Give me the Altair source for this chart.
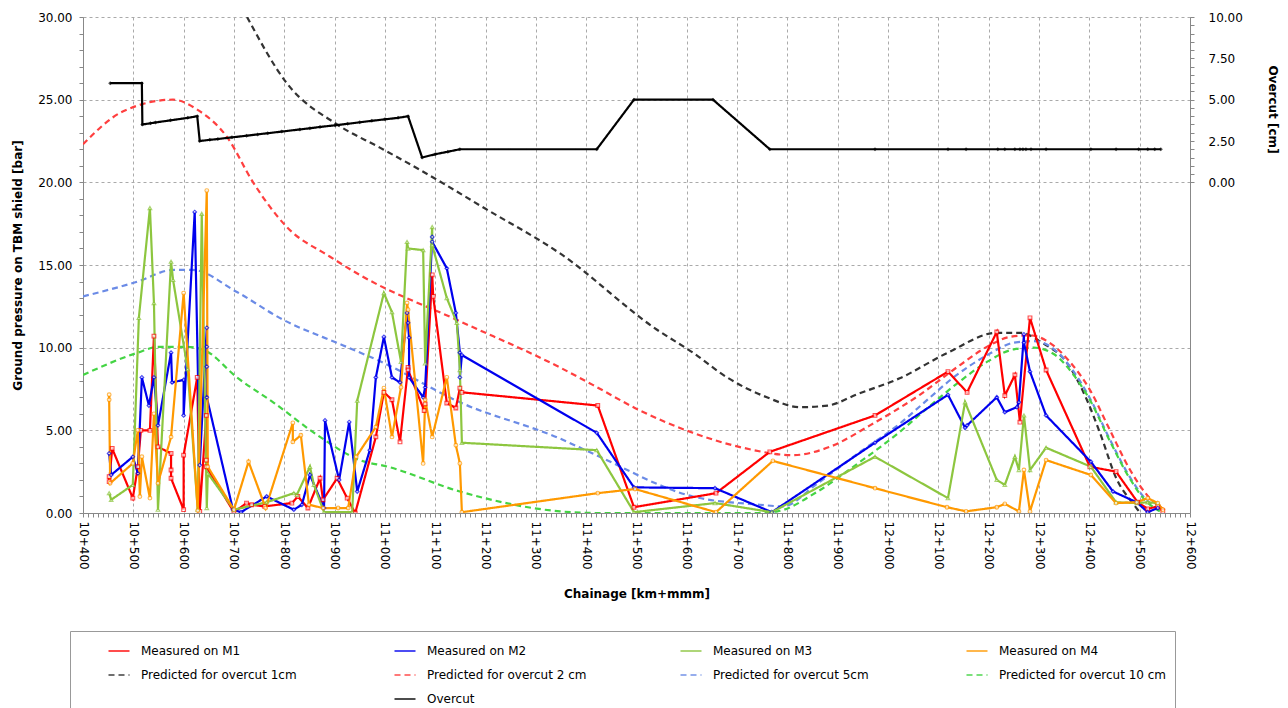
import altair as alt
import pandas as pd

# ---------------- data (chainage in m, pressure in bar, overcut in cm) ----------------
M1_X = [10452, 10452, 10458, 10499, 10509, 10515, 10533, 10541, 10549, 10575, 10575, 10575, 10600, 10600, 10627, 10632, 10645, 10645, 10645, 10700, 10725, 10735, 10761, 10815, 10827, 10847, 10871, 10877, 10905, 10925, 10941, 10982, 10998, 11014, 11030, 11046, 11046, 11078, 11080, 11094, 11096, 11123, 11141, 11149, 11153, 11423, 11495, 11658, 11765, 11974, 12119, 12157, 12216, 12232, 12252, 12262, 12282, 12314, 12401, 12453, 12496, 12516, 12536, 12546]
M1_Y = [2.2, 1.9, 3.9, 0.9, 2.8, 5.0, 5.0, 10.7, 4.0, 3.6, 2.6, 2.1, 0.2, 3.5, 8.2, 0.1, 5.9, 3.2, 2.8, 0.05, 0.6, 0.5, 0.4, 0.6, 1.0, 0.3, 2.1, 0.8, 2.1, 0.9, 0.0, 4.6, 7.3, 6.85, 4.3, 8.8, 8.65, 6.2, 6.6, 14.4, 13.1, 6.65, 6.35, 7.55, 7.3, 6.5, 0.35, 1.2, 3.7, 5.9, 8.55, 7.3, 10.95, 7.1, 8.35, 5.5, 11.8, 8.65, 2.8, 2.5, 0.65, 0.25, 0.4, 0.1]

M2_X = [10452, 10456, 10499, 10509, 10517, 10531, 10541, 10549, 10575, 10577, 10600, 10600, 10622, 10632, 10646, 10646, 10646, 10646, 10698, 10714, 10765, 10819, 10835, 10851, 10879, 10881, 10909, 10929, 10945, 10970, 10982, 10998, 11014, 11030, 11044, 11046, 11048, 11048, 11076, 11080, 11094, 11094, 11123, 11141, 11149, 11149, 11153, 11421, 11495, 11656, 11769, 11974, 12119, 12153, 12157, 12216, 12232, 12256, 12260, 12270, 12270, 12282, 12314, 12403, 12447, 12494, 12516, 12536]
M2_Y = [3.6, 2.3, 3.4, 2.4, 8.2, 6.5, 8.2, 5.3, 9.7, 7.9, 8.05, 5.9, 18.2, 2.9, 11.2, 10.05, 8.85, 7.0, 0.2, 0.05, 1.0, 0.2, 0.5, 2.3, 0.3, 5.6, 2.0, 5.5, 1.3, 3.8, 8.2, 10.65, 8.2, 7.9, 12.1, 11.5, 10.6, 8.2, 7.0, 7.6, 16.7, 16.4, 14.8, 12.1, 9.7, 8.2, 9.55, 4.85, 1.55, 1.5, 0.05, 4.25, 7.15, 5.15, 5.3, 7.0, 6.1, 6.4, 6.7, 10.8, 10.3, 8.55, 5.9, 3.1, 1.3, 0.65, 0.05, 0.3]

M3_X = [10452, 10456, 10499, 10511, 10533, 10541, 10549, 10575, 10579, 10608, 10628, 10636, 10646, 10648, 10700, 10765, 10819, 10825, 10851, 10859, 10879, 10935, 10945, 10998, 11014, 11032, 11044, 11046, 11076, 11080, 11094, 11094, 11123, 11143, 11149, 11153, 11421, 11495, 11656, 11769, 11974, 12119, 12153, 12216, 12232, 12252, 12260, 12270, 12282, 12314, 12403, 12453, 12494, 12516, 12536]
M3_Y = [1.2, 0.8, 1.7, 11.8, 18.45, 12.7, 0.2, 15.2, 14.1, 8.7, 0.2, 18.1, 0.3, 2.4, 0.2, 0.65, 1.2, 1.1, 2.8, 1.7, 0.05, 0.05, 6.8, 13.3, 12.15, 9.15, 16.4, 16.0, 15.9, 9.05, 17.3, 16.2, 13.0, 11.5, 8.65, 4.25, 3.8, 0.05, 0.6, 0.05, 3.4, 0.9, 6.7, 2.0, 1.7, 3.4, 2.6, 5.9, 2.6, 3.95, 2.8, 0.65, 0.6, 0.65, 0.6]

M4_X = [10452, 10452, 10454, 10499, 10509, 10513, 10517, 10533, 10541, 10549, 10575, 10600, 10628, 10646, 10648, 10700, 10729, 10763, 10817, 10817, 10833, 10849, 10877, 10907, 10927, 10943, 10982, 10998, 11014, 11032, 11044, 11046, 11076, 11080, 11094, 11123, 11141, 11149, 11153, 11423, 11497, 11658, 11771, 11974, 12117, 12155, 12216, 12232, 12260, 12270, 12282, 12314, 12403, 12453, 12494, 12516, 12536, 12546]
M4_Y = [7.15, 6.85, 1.8, 3.0, 5.0, 1.0, 3.4, 0.9, 6.0, 1.8, 4.6, 13.3, 0.15, 19.5, 2.8, 0.2, 3.1, 0.3, 5.45, 4.3, 4.7, 0.5, 0.3, 0.3, 0.3, 3.4, 5.2, 7.55, 4.6, 7.6, 12.7, 12.3, 3.0, 6.85, 4.6, 8.2, 4.1, 3.0, 0.05, 1.2, 1.45, 0.05, 3.15, 1.5, 0.35, 0.1, 0.35, 0.55, 0.1, 2.6, 0.1, 3.2, 2.3, 0.6, 0.65, 0.9, 0.6, 0.2]

P1_X = [10726, 10805, 10905, 10990, 11070, 11200, 11348, 11540, 11612, 11680, 11759, 11825, 11880, 11940, 12023, 12119, 12216, 12262, 12306, 12355, 12395, 12421, 12455, 12486, 12500]
P1_Y = [30.0, 26.0, 23.5, 22.1, 20.75, 18.4, 15.7, 11.1, 9.7, 8.2, 7.0, 6.4, 6.5, 7.2, 8.15, 9.7, 10.9, 10.9, 10.3, 9.1, 6.85, 4.85, 2.0, 0.6, 0.05]

P2_X = [10400, 10480, 10579, 10627, 10686, 10738, 10805, 10891, 10950, 11149, 11348, 11413, 11507, 11612, 11711, 11811, 11884, 11964, 12063, 12143, 12202, 12242, 12282, 12321, 12361, 12401, 12441, 12481, 12520, 12550]
P2_Y = [22.3, 24.3, 25.0, 24.4, 22.75, 20.0, 17.3, 15.5, 14.4, 11.6, 8.8, 7.75, 6.2, 4.85, 3.95, 3.5, 4.0, 5.3, 7.15, 8.95, 10.15, 10.65, 10.75, 10.3, 9.15, 7.45, 5.0, 2.6, 0.9, 0.2]

P5_X = [10400, 10509, 10579, 10618, 10704, 10797, 10916, 10996, 11149, 11348, 11413, 11612, 11745, 11790, 11860, 11940, 12023, 12080, 12130, 12200, 12250, 12290, 12330, 12370, 12400, 12440, 12480, 12510, 12540]
P5_Y = [13.1, 14.0, 14.7, 14.7, 13.4, 11.7, 10.15, 9.1, 6.7, 4.5, 3.6, 1.0, 0.5, 0.4, 1.8, 3.6, 5.4, 6.9, 8.2, 9.6, 10.3, 10.4, 9.9, 8.5, 7.0, 4.5, 2.2, 0.9, 0.2]

P10_X = [10400, 10509, 10549, 10607, 10641, 10706, 10780, 10871, 10950, 11006, 11149, 11348, 11420, 11740, 11780, 11860, 11940, 12023, 12080, 12140, 12200, 12250, 12290, 12330, 12370, 12400, 12440, 12480, 12510, 12540]
P10_Y = [8.35, 9.7, 10.05, 10.05, 9.85, 8.2, 6.65, 4.6, 3.2, 2.8, 1.3, 0.1, 0.0, 0.0, 0.1, 1.3, 3.0, 4.9, 6.4, 7.9, 9.2, 9.9, 10.0, 9.6, 8.3, 6.9, 4.4, 2.1, 0.8, 0.1]

OC_X = [10454, 10517, 10518, 10534, 10544, 10574, 10608, 10627, 10632, 10652, 10668, 10696, 10725, 10747, 10767, 10795, 10831, 10851, 10871, 10901, 10926, 10950, 10974, 11000, 11026, 11046, 11074, 11100, 11125, 11149, 11421, 11495, 11652, 11765, 11974, 12119, 12155, 12218, 12232, 12252, 12262, 12268, 12274, 12284, 12314, 12403, 12453, 12498, 12516, 12530, 12542]
OC_Y = [6.0, 6.0, 3.5, 3.57, 3.62, 3.75, 3.9, 4.0, 2.5, 2.57, 2.62, 2.72, 2.82, 2.9, 2.97, 3.07, 3.2, 3.27, 3.35, 3.45, 3.54, 3.63, 3.72, 3.81, 3.9, 4.0, 1.5, 1.7, 1.85, 2.0, 2.0, 5.0, 5.0, 2.0, 2.0, 2.0, 2.0, 2.0, 2.0, 2.0, 2.0, 2.0, 2.0, 2.0, 2.0, 2.0, 2.0, 2.0, 2.0, 2.0, 2.0]

NAMES = ["Measured on M1", "Measured on M2", "Measured on M3", "Measured on M4",
         "Predicted for overcut 1cm", "Predicted for overcut 2 cm",
         "Predicted for overcut 5cm", "Predicted for overcut 10 cm",
         " ", "Overcut"]
COLORS = ["#ff0000", "#0000ee", "#8dc63f", "#ff9900",
          "#333333", "#ff3f3f", "#6b8be6", "#44d444", "#ffffff", "#000000"]
DASHES = [[1, 0]] * 4 + [[6, 4]] * 4 + [[1, 0], [1, 0]]
WIDTHS = [2.2, 2.2, 2.2, 2.2, 1.3, 1.3, 1.3, 1.3, 0.1, 2.5]
SHAPES = ["square", "diamond", "triangle-up", "circle"]

X_TICKS = list(range(10400, 12601, 10))
Y_TICKS = list(range(0, 31))
OC_TICKS = [i * 0.5 for i in range(0, 21)]

# ---------------- tables ----------------
def table(pairs):
    rows = []
    for name, xs, ys in pairs:
        assert len(xs) == len(ys), name
        for i, (x, y) in enumerate(zip(xs, ys)):
            rows.append({"series": name, "ch": x, "val": y, "idx": i})
    return pd.DataFrame(rows)

meas = table([(NAMES[0], M1_X, M1_Y), (NAMES[1], M2_X, M2_Y),
              (NAMES[2], M3_X, M3_Y), (NAMES[3], M4_X, M4_Y)])
pred = table([(NAMES[4], P1_X, P1_Y), (NAMES[5], P2_X, P2_Y),
              (NAMES[6], P5_X, P5_Y), (NAMES[7], P10_X, P10_Y)])
ocut = table([(NAMES[9], OC_X, OC_Y)])

FONT = "DejaVu Sans"

x_enc = alt.X(
    "ch:Q",
    scale=alt.Scale(domain=[10400, 12600], nice=False, zero=False),
    axis=alt.Axis(
        values=X_TICKS,
        labelExpr="datum.value % 100 === 0 ? floor(datum.value / 1000) + '+' + format(datum.value % 1000, '03d') : ''",
        labelAngle=90, labelAlign="left", labelBaseline="middle",
        labelOverlap=False, labelFlush=False, labelFont=FONT, labelFontSize=12,
        labelColor="#000000", labelPadding=4, tickSize=4, tickColor="#888888",
        domainColor="#888888", grid=True, gridColor="#aaaaaa", gridDash=[3, 3],
        gridOpacity={"condition": {"test": "datum.value % 100 === 0", "value": 1}, "value": 0},
        title="Chainage [km+mmm]", titleFont=FONT, titleFontSize=12, titleFontWeight="bold",
        titleColor="#000000", titleY=80, titleBaseline="middle",
    ),
)

y_left = alt.Y(
    "val:Q",
    scale=alt.Scale(domain=[0, 30], nice=False),
    axis=alt.Axis(
        values=Y_TICKS,
        labelExpr="datum.value % 5 === 0 ? format(datum.value, '.2f') : ''",
        labelOverlap=False, labelFont=FONT, labelFontSize=12, labelColor="#000000",
        labelPadding=7, tickSize=4, tickColor="#888888", domainColor="#888888",
        grid=True, gridColor="#aaaaaa", gridDash=[3, 3],
        gridOpacity={"condition": {"test": "datum.value % 5 === 0", "value": 1}, "value": 0},
        title="Ground pressure on TBM shield [bar]", titleFont=FONT, titleFontSize=12,
        titleFontWeight="bold", titleColor="#000000", titleAngle=-90,
        titleX=-66, titleY=248, titleAlign="center", titleBaseline="middle",
    ),
)

y_right = alt.Y(
    "val:Q",
    scale=alt.Scale(domain=[-20, 10], nice=False),
    axis=alt.Axis(
        orient="right", values=OC_TICKS,
        labelExpr="datum.value % 2.5 === 0 ? format(datum.value, '.2f') : ''",
        labelOverlap=False, labelFont=FONT, labelFontSize=12, labelColor="#000000",
        labelPadding=14, tickSize=4, tickColor="#888888", domainColor="#888888",
        grid=False,
        title="Overcut [cm]", titleFont=FONT, titleFontSize=12, titleFontWeight="bold",
        titleColor="#000000", titleAngle=90, titleX=82, titleY=92,
        titleAlign="center", titleBaseline="middle",
    ),
)

LEG = alt.Legend(
    title=None, orient="none", legendX=-13, legendY=614, columns=4,
    direction="horizontal", symbolType="stroke", symbolSize=441,
    symbolStrokeWidth=2, symbolOffset=29, labelFont=FONT, labelFontSize=12,
    labelColor="#000000", labelOffset=10, labelLimit=400, columnPadding=55,
    rowPadding=6, gridAlign="all", strokeColor="#999999", fillColor="#ffffff",
    padding=8,
)

color = alt.Color("series:N", scale=alt.Scale(domain=NAMES, range=COLORS), legend=LEG)
dash = alt.StrokeDash("series:N", scale=alt.Scale(domain=NAMES, range=DASHES), legend=LEG)
width = alt.StrokeWidth("series:N", scale=alt.Scale(domain=NAMES, range=WIDTHS), legend=None)

pred_lines = alt.Chart(pred).mark_line(interpolate="monotone", clip=True).encode(
    x=x_enc, y=y_left, color=color, strokeDash=dash, strokeWidth=width,
    order=alt.Order("idx:Q"), detail="series:N",
)
meas_lines = alt.Chart(meas).mark_line(clip=True).encode(
    x=x_enc, y=y_left, color=color, strokeDash=dash, strokeWidth=width,
    order=alt.Order("idx:Q"), detail="series:N",
)
meas_pts = alt.Chart(meas).mark_point(filled=False, fill="white", size=14, strokeWidth=1.1, clip=True).encode(
    x=x_enc, y=y_left, color=color,
    shape=alt.Shape("series:N", scale=alt.Scale(domain=NAMES[:4], range=SHAPES), legend=None),
)

oc_line = alt.Chart(ocut).mark_line().encode(
    x=x_enc, y=y_right, color=color, strokeDash=dash, strokeWidth=width,
    order=alt.Order("idx:Q"),
)
oc_pts = alt.Chart(ocut).mark_point(filled=True, shape="diamond", size=16, color="#000000").encode(
    x=x_enc, y=y_right,
)

left = alt.layer(pred_lines, meas_lines, meas_pts)
right = alt.layer(oc_line, oc_pts)

chart = alt.layer(left, right).resolve_scale(y="independent").properties(
    width=1107, height=496,
    padding={"left": 83, "top": 17, "right": 98, "bottom": 195},
    autosize=alt.AutoSizeParams(type="none"),
    background="white",
).configure_view(strokeWidth=0)

chart.save("out.html", embed_options={"renderer": "svg", "actions": False})
